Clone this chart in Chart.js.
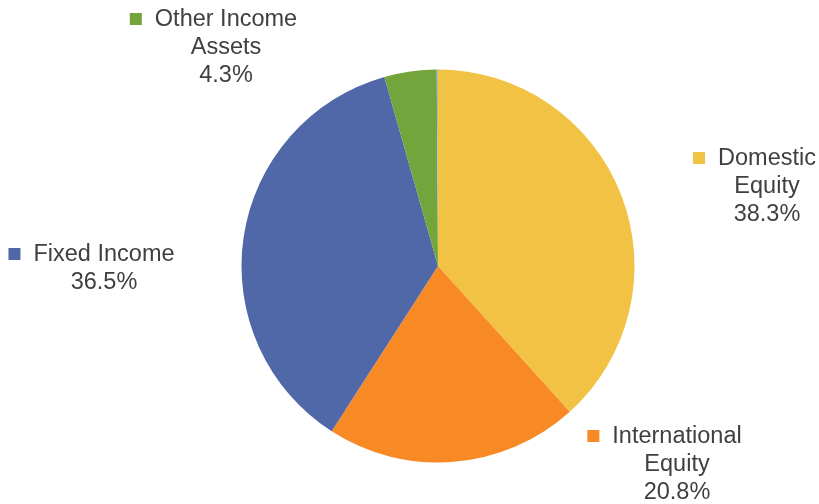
<!DOCTYPE html>
<html>
<head>
<meta charset="utf-8">
<script src="https://cdn.jsdelivr.net/npm/chart.js@4.4.1/dist/chart.umd.min.js"></script>
<style>
  html, body { margin: 0; padding: 0; background: #ffffff; }
  #wrap { width: 819px; height: 504px; position: relative; }
</style>
</head>
<body>
<div id="wrap"><canvas id="c" width="819" height="504"></canvas></div>
<script>
// ---- Data ----
const categories = ["Domestic Equity", "International Equity", "Fixed Income", "Other Income Assets", "Cash"];
const labelLines = [["Domestic", "Equity"], ["International", "Equity"], ["Fixed Income"], ["Other Income", "Assets"], null];
const values = [38.3, 20.8, 36.5, 4.3, 0.1];
const colors = ["#F2C244", "#F88A26", "#5068A8", "#73A53C", "#A9B8CE"];

// label placement (offset of text block's first line centre from pie centre, in px)
const labelOffsets = [[329, -107], [239, 171], [-334, -11], [-212, -246], null];

const FONT = '23.5px "Liberation Sans", Arial, sans-serif';
const LINE_H = 28;

const labelPlugin = {
  id: 'pieLabels',
  afterDatasetsDraw(chart) {
    const ctx = chart.ctx;
    const meta = chart.getDatasetMeta(0);
    const ds = chart.data.datasets[0];
    ctx.save();
    ctx.font = FONT;
    ctx.textBaseline = 'middle';
    ctx.textAlign = 'center';
    meta.data.forEach((arc, i) => {
      if (!labelLines[i] || !labelOffsets[i]) return;
      const lines = labelLines[i].concat([ds.data[i].toFixed(1) + '%']);
      const cx = arc.x + labelOffsets[i][0];
      const cy0 = arc.y + labelOffsets[i][1];
      lines.forEach((ln, k) => {
        ctx.fillStyle = '#404040';
        ctx.fillText(ln, cx, cy0 + k * LINE_H);
      });
      // legend key square before first line
      const w = ctx.measureText(lines[0]).width;
      const sq = 12;
      const x0 = cx - w / 2 - 13 - sq;
      ctx.fillStyle = ds.backgroundColor[i];
      ctx.fillRect(x0, cy0 - sq / 2 - 1, sq, sq);
    });
    ctx.restore();
  }
};

new Chart(document.getElementById('c'), {
  type: 'pie',
  data: {
    labels: categories,
    datasets: [{
      data: values,
      backgroundColor: colors,
      borderWidth: 0
    }]
  },
  options: {
    responsive: false,
    animation: false,
    events: [],
    layout: { padding: { left: 241.5, right: 184.5, top: 69.5, bottom: 41.5 } },
    plugins: { legend: { display: false }, tooltip: { enabled: false } }
  },
  plugins: [labelPlugin]
});
</script>
</body>
</html>
